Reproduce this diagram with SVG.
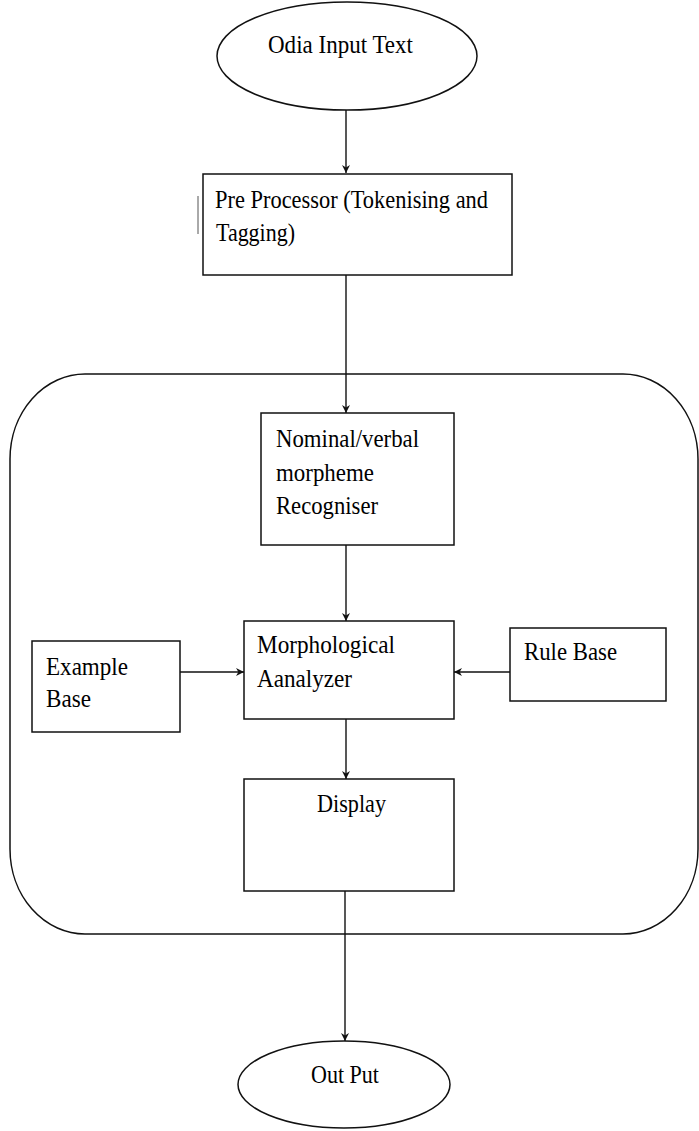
<svg xmlns="http://www.w3.org/2000/svg" width="699" height="1131" viewBox="0 0 699 1131">
<style>
.s{fill:#fff;stroke:#111;stroke-width:1.5}
.c{fill:none;stroke:#111;stroke-width:1.4}
.t{font-family:"Liberation Serif","Times New Roman",serif;font-size:26px;fill:#000}
</style>
<defs>
<marker id="ah" viewBox="0 0 10 10" refX="10" refY="5" markerWidth="8" markerHeight="8" markerUnits="userSpaceOnUse" orient="auto">
<path d="M0,0 L10,5 L0,10 L3,5 z" fill="#111"/>
</marker>
</defs>
<rect width="699" height="1131" fill="#fff"/>
<g id="container">
<rect class="s" x="10" y="374" width="688" height="560" rx="75" ry="85" fill="none"/>
</g>
<g id="connectors">
<line class="c" x1="346" y1="110" x2="346" y2="173" marker-end="url(#ah)"/>
<line class="c" x1="346" y1="275" x2="346" y2="413" marker-end="url(#ah)"/>
<line class="c" x1="346" y1="545" x2="346" y2="621" marker-end="url(#ah)"/>
<line class="c" x1="180" y1="672" x2="244" y2="672" marker-end="url(#ah)"/>
<line class="c" x1="510" y1="672" x2="454" y2="672" marker-end="url(#ah)"/>
<line class="c" x1="346" y1="719" x2="346" y2="779" marker-end="url(#ah)"/>
<line class="c" x1="345" y1="891" x2="345" y2="1041" marker-end="url(#ah)"/>
</g>
<g id="input">
<ellipse class="s" cx="347" cy="56" rx="130" ry="54"/>
<text class="t" x="268" y="53" textLength="145" lengthAdjust="spacingAndGlyphs">Odia Input Text</text>
</g>
<g id="preprocessor">
<line x1="198" y1="196" x2="198" y2="234" stroke="#555" stroke-width="1"/>
<rect class="s" x="203" y="174" width="309" height="101"/>
<text class="t" x="215" y="208" textLength="273" lengthAdjust="spacingAndGlyphs">Pre Processor (Tokenising and</text>
<text class="t" x="216" y="241" textLength="79" lengthAdjust="spacingAndGlyphs">Tagging)</text>
</g>
<g id="recogniser">
<rect class="s" x="261" y="413" width="193" height="132"/>
<text class="t" x="276" y="447" textLength="143" lengthAdjust="spacingAndGlyphs">Nominal/verbal</text>
<text class="t" x="276" y="481" textLength="98" lengthAdjust="spacingAndGlyphs">morpheme</text>
<text class="t" x="276" y="514" textLength="102" lengthAdjust="spacingAndGlyphs">Recogniser</text>
</g>
<g id="analyzer">
<rect class="s" x="244" y="621" width="210" height="98"/>
<text class="t" x="257" y="653" textLength="138" lengthAdjust="spacingAndGlyphs">Morphological</text>
<text class="t" x="257" y="687" textLength="95" lengthAdjust="spacingAndGlyphs">Aanalyzer</text>
</g>
<g id="example">
<rect class="s" x="32" y="641" width="148" height="91"/>
<text class="t" x="46" y="675" textLength="82" lengthAdjust="spacingAndGlyphs">Example</text>
<text class="t" x="46" y="707" textLength="45" lengthAdjust="spacingAndGlyphs">Base</text>
</g>
<g id="rule">
<rect class="s" x="510" y="628" width="156" height="73"/>
<text class="t" x="524" y="660" textLength="93" lengthAdjust="spacingAndGlyphs">Rule Base</text>
</g>
<g id="display">
<rect class="s" x="244" y="779" width="210" height="112"/>
<text class="t" x="317" y="812" textLength="69" lengthAdjust="spacingAndGlyphs">Display</text>
</g>
<g id="output">
<ellipse class="s" cx="344" cy="1084.5" rx="106" ry="43.5"/>
<text class="t" x="311" y="1083" textLength="68" lengthAdjust="spacingAndGlyphs">Out Put</text>
</g>
</svg>
